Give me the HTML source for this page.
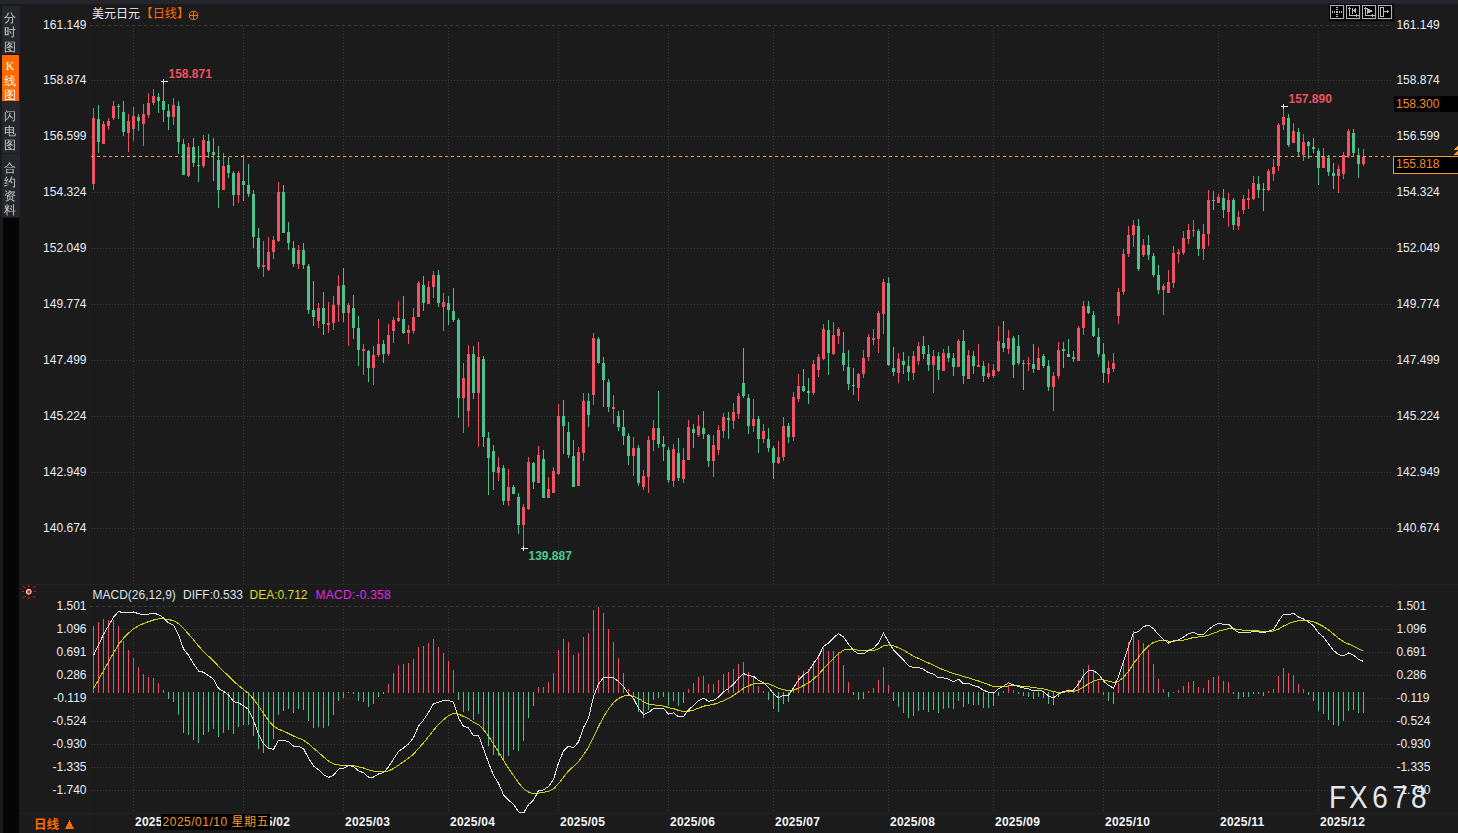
<!DOCTYPE html>
<html><head><meta charset="utf-8"><style>
html,body{margin:0;padding:0;background:#1b1b1b;overflow:hidden}
svg{display:block}
.ax{font-family:"Liberation Sans",Arial,sans-serif;font-size:12px;fill:#e8ecf4}
.hl{font-family:"Liberation Sans",Arial,sans-serif;font-size:12px;font-weight:bold}
.dt{font-family:"Liberation Sans",Arial,sans-serif;font-size:12px;font-weight:bold;fill:#f4f6fa;letter-spacing:0.25px}
.cj{font-family:"Liberation Sans","Noto Sans CJK SC",sans-serif;font-size:12px}
.cjb{font-family:"Liberation Sans","Noto Sans CJK SC",sans-serif;font-size:12.5px;font-weight:bold}
.sb{font-family:"Liberation Sans","WenQuanYi Zen Hei","Noto Sans CJK SC",sans-serif;font-size:12px}
.sbk{font-family:"Liberation Serif",serif;font-size:12px}
.wm{font-family:"Liberation Sans",Arial,sans-serif;font-size:31px;fill:#e4e8f0}
</style></head><body>
<svg width="1458" height="833" viewBox="0 0 1458 833" shape-rendering="crispEdges">
<defs><clipPath id="mclip"><rect x="90" y="586" width="1301" height="227"/></clipPath></defs>
<rect x="0" y="0" width="1458" height="833" fill="#1b1b1b"/>
<rect x="0" y="0" width="1458" height="4" fill="#24262b"/>
<rect x="2" y="6" width="18" height="48" fill="#25272c"/>
<rect x="2" y="54" width="18" height="1" fill="#101822"/>
<rect x="2" y="55" width="17" height="46" fill="#ff6a00"/>
<rect x="2" y="101" width="18" height="52" fill="#25272c"/>
<rect x="2" y="153" width="18" height="1" fill="#1e2024"/>
<rect x="2" y="154" width="18" height="63" fill="#25272c"/>
<rect x="3" y="218" width="16" height="615" fill="#050505"/>
<rect x="89" y="25" width="1" height="808" fill="#1f1f1f"/>
<rect x="20" y="584" width="1438" height="1" fill="#222222"/>
<rect x="20" y="813" width="1438" height="1" fill="#202020"/>
<rect x="1394" y="25" width="1" height="788" fill="#1d1d1d"/>
<line x1="90" y1="25.5" x2="1392" y2="25.5" stroke="#3a3a3a" stroke-width="1" stroke-dasharray="3 3"/>
<line x1="91" y1="80.5" x2="1392" y2="80.5" stroke="#3a3a3a" stroke-width="1" stroke-dasharray="1 2" stroke-dashoffset="-0"/>
<line x1="91" y1="136.5" x2="1392" y2="136.5" stroke="#3a3a3a" stroke-width="1" stroke-dasharray="1 2" stroke-dashoffset="-0"/>
<line x1="91" y1="192.5" x2="1392" y2="192.5" stroke="#3a3a3a" stroke-width="1" stroke-dasharray="1 2" stroke-dashoffset="-0"/>
<line x1="91" y1="248.5" x2="1392" y2="248.5" stroke="#3a3a3a" stroke-width="1" stroke-dasharray="1 2" stroke-dashoffset="-0"/>
<line x1="91" y1="304.5" x2="1392" y2="304.5" stroke="#3a3a3a" stroke-width="1" stroke-dasharray="1 2" stroke-dashoffset="-0"/>
<line x1="91" y1="360.5" x2="1392" y2="360.5" stroke="#3a3a3a" stroke-width="1" stroke-dasharray="1 2" stroke-dashoffset="-0"/>
<line x1="91" y1="416.5" x2="1392" y2="416.5" stroke="#3a3a3a" stroke-width="1" stroke-dasharray="1 2" stroke-dashoffset="-0"/>
<line x1="91" y1="472.5" x2="1392" y2="472.5" stroke="#3a3a3a" stroke-width="1" stroke-dasharray="1 2" stroke-dashoffset="-0"/>
<line x1="91" y1="528.5" x2="1392" y2="528.5" stroke="#3a3a3a" stroke-width="1" stroke-dasharray="1 2" stroke-dashoffset="-0"/>
<line x1="90" y1="606.5" x2="1392" y2="606.5" stroke="#3a3a3a" stroke-width="1" stroke-dasharray="3 3"/>
<line x1="91" y1="629.5" x2="1392" y2="629.5" stroke="#3a3a3a" stroke-width="1" stroke-dasharray="1 2" stroke-dashoffset="-0"/>
<line x1="91" y1="652.5" x2="1392" y2="652.5" stroke="#3a3a3a" stroke-width="1" stroke-dasharray="1 2" stroke-dashoffset="-0"/>
<line x1="91" y1="675.5" x2="1392" y2="675.5" stroke="#3a3a3a" stroke-width="1" stroke-dasharray="1 2" stroke-dashoffset="-0"/>
<line x1="91" y1="698.5" x2="1392" y2="698.5" stroke="#3a3a3a" stroke-width="1" stroke-dasharray="1 2" stroke-dashoffset="-0"/>
<line x1="91" y1="721.5" x2="1392" y2="721.5" stroke="#3a3a3a" stroke-width="1" stroke-dasharray="1 2" stroke-dashoffset="-0"/>
<line x1="91" y1="744.5" x2="1392" y2="744.5" stroke="#3a3a3a" stroke-width="1" stroke-dasharray="1 2" stroke-dashoffset="-0"/>
<line x1="91" y1="767.5" x2="1392" y2="767.5" stroke="#3a3a3a" stroke-width="1" stroke-dasharray="1 2" stroke-dashoffset="-0"/>
<line x1="91" y1="790.5" x2="1392" y2="790.5" stroke="#3a3a3a" stroke-width="1" stroke-dasharray="1 2" stroke-dashoffset="-0"/>
<line x1="133.5" y1="28" x2="133.5" y2="584" stroke="#3a3a3a" stroke-width="1" stroke-dasharray="1 2"/>
<line x1="133.5" y1="609" x2="133.5" y2="812" stroke="#3a3a3a" stroke-width="1" stroke-dasharray="1 2"/>
<line x1="243.5" y1="28" x2="243.5" y2="584" stroke="#3a3a3a" stroke-width="1" stroke-dasharray="1 2"/>
<line x1="243.5" y1="609" x2="243.5" y2="812" stroke="#3a3a3a" stroke-width="1" stroke-dasharray="1 2"/>
<line x1="343.5" y1="28" x2="343.5" y2="584" stroke="#3a3a3a" stroke-width="1" stroke-dasharray="1 2"/>
<line x1="343.5" y1="609" x2="343.5" y2="812" stroke="#3a3a3a" stroke-width="1" stroke-dasharray="1 2"/>
<line x1="448.5" y1="28" x2="448.5" y2="584" stroke="#3a3a3a" stroke-width="1" stroke-dasharray="1 2"/>
<line x1="448.5" y1="609" x2="448.5" y2="812" stroke="#3a3a3a" stroke-width="1" stroke-dasharray="1 2"/>
<line x1="558.5" y1="28" x2="558.5" y2="584" stroke="#3a3a3a" stroke-width="1" stroke-dasharray="1 2"/>
<line x1="558.5" y1="609" x2="558.5" y2="812" stroke="#3a3a3a" stroke-width="1" stroke-dasharray="1 2"/>
<line x1="668.5" y1="28" x2="668.5" y2="584" stroke="#3a3a3a" stroke-width="1" stroke-dasharray="1 2"/>
<line x1="668.5" y1="609" x2="668.5" y2="812" stroke="#3a3a3a" stroke-width="1" stroke-dasharray="1 2"/>
<line x1="773.5" y1="28" x2="773.5" y2="584" stroke="#3a3a3a" stroke-width="1" stroke-dasharray="1 2"/>
<line x1="773.5" y1="609" x2="773.5" y2="812" stroke="#3a3a3a" stroke-width="1" stroke-dasharray="1 2"/>
<line x1="888.5" y1="28" x2="888.5" y2="584" stroke="#3a3a3a" stroke-width="1" stroke-dasharray="1 2"/>
<line x1="888.5" y1="609" x2="888.5" y2="812" stroke="#3a3a3a" stroke-width="1" stroke-dasharray="1 2"/>
<line x1="993.5" y1="28" x2="993.5" y2="584" stroke="#3a3a3a" stroke-width="1" stroke-dasharray="1 2"/>
<line x1="993.5" y1="609" x2="993.5" y2="812" stroke="#3a3a3a" stroke-width="1" stroke-dasharray="1 2"/>
<line x1="1103.5" y1="28" x2="1103.5" y2="584" stroke="#3a3a3a" stroke-width="1" stroke-dasharray="1 2"/>
<line x1="1103.5" y1="609" x2="1103.5" y2="812" stroke="#3a3a3a" stroke-width="1" stroke-dasharray="1 2"/>
<line x1="1218.5" y1="28" x2="1218.5" y2="584" stroke="#3a3a3a" stroke-width="1" stroke-dasharray="1 2"/>
<line x1="1218.5" y1="609" x2="1218.5" y2="812" stroke="#3a3a3a" stroke-width="1" stroke-dasharray="1 2"/>
<line x1="1318.5" y1="28" x2="1318.5" y2="584" stroke="#3a3a3a" stroke-width="1" stroke-dasharray="1 2"/>
<line x1="1318.5" y1="609" x2="1318.5" y2="812" stroke="#3a3a3a" stroke-width="1" stroke-dasharray="1 2"/>
<rect x="93" y="108" width="1" height="82" fill="#ee5264"/>
<rect x="92" y="118" width="3" height="66" fill="#ee5264"/>
<rect x="98" y="105" width="1" height="48" fill="#4dc08c"/>
<rect x="97" y="119" width="3" height="23" fill="#4dc08c"/>
<rect x="103" y="121" width="1" height="23" fill="#ee5264"/>
<rect x="102" y="124" width="3" height="20" fill="#ee5264"/>
<rect x="108" y="118" width="1" height="12" fill="#ee5264"/>
<rect x="107" y="121" width="3" height="5" fill="#ee5264"/>
<rect x="113" y="101" width="1" height="19" fill="#ee5264"/>
<rect x="112" y="106" width="3" height="12" fill="#ee5264"/>
<rect x="118" y="104" width="1" height="15" fill="#4dc08c"/>
<rect x="117" y="106" width="3" height="1" fill="#4dc08c"/>
<rect x="123" y="101" width="1" height="35" fill="#4dc08c"/>
<rect x="122" y="112" width="3" height="20" fill="#4dc08c"/>
<rect x="128" y="114" width="1" height="38" fill="#ee5264"/>
<rect x="127" y="121" width="3" height="12" fill="#ee5264"/>
<rect x="133" y="107" width="1" height="34" fill="#ee5264"/>
<rect x="132" y="116" width="3" height="13" fill="#ee5264"/>
<rect x="138" y="114" width="1" height="17" fill="#4dc08c"/>
<rect x="137" y="117" width="3" height="4" fill="#4dc08c"/>
<rect x="143" y="104" width="1" height="42" fill="#ee5264"/>
<rect x="142" y="114" width="3" height="10" fill="#ee5264"/>
<rect x="148" y="93" width="1" height="25" fill="#ee5264"/>
<rect x="147" y="103" width="3" height="12" fill="#ee5264"/>
<rect x="153" y="89" width="1" height="16" fill="#ee5264"/>
<rect x="152" y="96" width="3" height="7" fill="#ee5264"/>
<rect x="158" y="93" width="1" height="20" fill="#4dc08c"/>
<rect x="157" y="97" width="3" height="4" fill="#4dc08c"/>
<rect x="163" y="81" width="1" height="41" fill="#4dc08c"/>
<rect x="162" y="101" width="3" height="9" fill="#4dc08c"/>
<rect x="168" y="104" width="1" height="26" fill="#4dc08c"/>
<rect x="167" y="111" width="3" height="6" fill="#4dc08c"/>
<rect x="173" y="98" width="1" height="27" fill="#ee5264"/>
<rect x="172" y="105" width="3" height="12" fill="#ee5264"/>
<rect x="178" y="101" width="1" height="53" fill="#4dc08c"/>
<rect x="177" y="106" width="3" height="36" fill="#4dc08c"/>
<rect x="183" y="139" width="1" height="36" fill="#4dc08c"/>
<rect x="182" y="144" width="3" height="31" fill="#4dc08c"/>
<rect x="188" y="143" width="1" height="34" fill="#ee5264"/>
<rect x="187" y="147" width="3" height="29" fill="#ee5264"/>
<rect x="193" y="138" width="1" height="29" fill="#4dc08c"/>
<rect x="192" y="147" width="3" height="16" fill="#4dc08c"/>
<rect x="198" y="146" width="1" height="36" fill="#4dc08c"/>
<rect x="197" y="165" width="3" height="1" fill="#4dc08c"/>
<rect x="203" y="135" width="1" height="33" fill="#ee5264"/>
<rect x="202" y="140" width="3" height="26" fill="#ee5264"/>
<rect x="208" y="134" width="1" height="24" fill="#4dc08c"/>
<rect x="207" y="141" width="3" height="11" fill="#4dc08c"/>
<rect x="213" y="138" width="1" height="43" fill="#4dc08c"/>
<rect x="212" y="152" width="3" height="3" fill="#4dc08c"/>
<rect x="218" y="146" width="1" height="62" fill="#4dc08c"/>
<rect x="217" y="160" width="3" height="30" fill="#4dc08c"/>
<rect x="223" y="153" width="1" height="37" fill="#ee5264"/>
<rect x="222" y="166" width="3" height="24" fill="#ee5264"/>
<rect x="228" y="157" width="1" height="21" fill="#4dc08c"/>
<rect x="227" y="165" width="3" height="8" fill="#4dc08c"/>
<rect x="233" y="171" width="1" height="35" fill="#4dc08c"/>
<rect x="232" y="173" width="3" height="22" fill="#4dc08c"/>
<rect x="238" y="171" width="1" height="32" fill="#ee5264"/>
<rect x="237" y="173" width="3" height="22" fill="#ee5264"/>
<rect x="243" y="155" width="1" height="46" fill="#4dc08c"/>
<rect x="242" y="181" width="3" height="4" fill="#4dc08c"/>
<rect x="248" y="164" width="1" height="33" fill="#4dc08c"/>
<rect x="247" y="185" width="3" height="9" fill="#4dc08c"/>
<rect x="253" y="190" width="1" height="58" fill="#4dc08c"/>
<rect x="252" y="194" width="3" height="43" fill="#4dc08c"/>
<rect x="258" y="228" width="1" height="41" fill="#4dc08c"/>
<rect x="257" y="238" width="3" height="29" fill="#4dc08c"/>
<rect x="263" y="241" width="1" height="36" fill="#ee5264"/>
<rect x="262" y="265" width="3" height="2" fill="#ee5264"/>
<rect x="268" y="237" width="1" height="34" fill="#ee5264"/>
<rect x="267" y="252" width="3" height="18" fill="#ee5264"/>
<rect x="273" y="236" width="1" height="23" fill="#ee5264"/>
<rect x="272" y="240" width="3" height="12" fill="#ee5264"/>
<rect x="278" y="182" width="1" height="60" fill="#ee5264"/>
<rect x="277" y="192" width="3" height="49" fill="#ee5264"/>
<rect x="283" y="185" width="1" height="48" fill="#4dc08c"/>
<rect x="282" y="192" width="3" height="41" fill="#4dc08c"/>
<rect x="288" y="222" width="1" height="28" fill="#4dc08c"/>
<rect x="287" y="232" width="3" height="11" fill="#4dc08c"/>
<rect x="293" y="241" width="1" height="26" fill="#4dc08c"/>
<rect x="292" y="248" width="3" height="16" fill="#4dc08c"/>
<rect x="298" y="245" width="1" height="24" fill="#ee5264"/>
<rect x="297" y="250" width="3" height="14" fill="#ee5264"/>
<rect x="303" y="243" width="1" height="26" fill="#4dc08c"/>
<rect x="302" y="250" width="3" height="15" fill="#4dc08c"/>
<rect x="308" y="264" width="1" height="50" fill="#4dc08c"/>
<rect x="307" y="266" width="3" height="44" fill="#4dc08c"/>
<rect x="313" y="281" width="1" height="45" fill="#4dc08c"/>
<rect x="312" y="310" width="3" height="7" fill="#4dc08c"/>
<rect x="318" y="303" width="1" height="25" fill="#ee5264"/>
<rect x="317" y="308" width="3" height="13" fill="#ee5264"/>
<rect x="323" y="292" width="1" height="43" fill="#4dc08c"/>
<rect x="322" y="308" width="3" height="16" fill="#4dc08c"/>
<rect x="328" y="302" width="1" height="31" fill="#ee5264"/>
<rect x="327" y="323" width="3" height="2" fill="#ee5264"/>
<rect x="333" y="296" width="1" height="34" fill="#ee5264"/>
<rect x="332" y="305" width="3" height="18" fill="#ee5264"/>
<rect x="338" y="275" width="1" height="47" fill="#ee5264"/>
<rect x="337" y="286" width="3" height="19" fill="#ee5264"/>
<rect x="343" y="268" width="1" height="54" fill="#4dc08c"/>
<rect x="342" y="285" width="3" height="28" fill="#4dc08c"/>
<rect x="348" y="303" width="1" height="43" fill="#ee5264"/>
<rect x="347" y="305" width="3" height="8" fill="#ee5264"/>
<rect x="353" y="295" width="1" height="44" fill="#4dc08c"/>
<rect x="352" y="308" width="3" height="20" fill="#4dc08c"/>
<rect x="358" y="316" width="1" height="50" fill="#4dc08c"/>
<rect x="357" y="328" width="3" height="22" fill="#4dc08c"/>
<rect x="363" y="344" width="1" height="31" fill="#ee5264"/>
<rect x="362" y="349" width="3" height="2" fill="#ee5264"/>
<rect x="368" y="350" width="1" height="32" fill="#4dc08c"/>
<rect x="367" y="351" width="3" height="17" fill="#4dc08c"/>
<rect x="373" y="346" width="1" height="39" fill="#ee5264"/>
<rect x="372" y="355" width="3" height="13" fill="#ee5264"/>
<rect x="378" y="319" width="1" height="38" fill="#ee5264"/>
<rect x="377" y="344" width="3" height="11" fill="#ee5264"/>
<rect x="383" y="340" width="1" height="23" fill="#4dc08c"/>
<rect x="382" y="344" width="3" height="10" fill="#4dc08c"/>
<rect x="388" y="324" width="1" height="32" fill="#ee5264"/>
<rect x="387" y="335" width="3" height="19" fill="#ee5264"/>
<rect x="393" y="317" width="1" height="26" fill="#ee5264"/>
<rect x="392" y="320" width="3" height="11" fill="#ee5264"/>
<rect x="398" y="301" width="1" height="21" fill="#ee5264"/>
<rect x="397" y="318" width="3" height="3" fill="#ee5264"/>
<rect x="403" y="296" width="1" height="38" fill="#4dc08c"/>
<rect x="402" y="319" width="3" height="14" fill="#4dc08c"/>
<rect x="408" y="325" width="1" height="19" fill="#ee5264"/>
<rect x="407" y="330" width="3" height="3" fill="#ee5264"/>
<rect x="413" y="308" width="1" height="26" fill="#ee5264"/>
<rect x="412" y="317" width="3" height="14" fill="#ee5264"/>
<rect x="418" y="281" width="1" height="36" fill="#ee5264"/>
<rect x="417" y="283" width="3" height="34" fill="#ee5264"/>
<rect x="423" y="276" width="1" height="35" fill="#4dc08c"/>
<rect x="422" y="285" width="3" height="18" fill="#4dc08c"/>
<rect x="428" y="281" width="1" height="23" fill="#ee5264"/>
<rect x="427" y="287" width="3" height="17" fill="#ee5264"/>
<rect x="433" y="271" width="1" height="27" fill="#ee5264"/>
<rect x="432" y="275" width="3" height="12" fill="#ee5264"/>
<rect x="438" y="270" width="1" height="37" fill="#4dc08c"/>
<rect x="437" y="275" width="3" height="28" fill="#4dc08c"/>
<rect x="443" y="293" width="1" height="38" fill="#ee5264"/>
<rect x="442" y="302" width="3" height="5" fill="#ee5264"/>
<rect x="448" y="296" width="1" height="29" fill="#4dc08c"/>
<rect x="447" y="303" width="3" height="7" fill="#4dc08c"/>
<rect x="453" y="288" width="1" height="34" fill="#4dc08c"/>
<rect x="452" y="311" width="3" height="9" fill="#4dc08c"/>
<rect x="458" y="318" width="1" height="100" fill="#4dc08c"/>
<rect x="457" y="320" width="3" height="78" fill="#4dc08c"/>
<rect x="463" y="363" width="1" height="70" fill="#ee5264"/>
<rect x="462" y="378" width="3" height="20" fill="#ee5264"/>
<rect x="468" y="345" width="1" height="82" fill="#ee5264"/>
<rect x="467" y="354" width="3" height="57" fill="#ee5264"/>
<rect x="473" y="346" width="1" height="53" fill="#4dc08c"/>
<rect x="472" y="354" width="3" height="39" fill="#4dc08c"/>
<rect x="478" y="342" width="1" height="105" fill="#ee5264"/>
<rect x="477" y="357" width="3" height="36" fill="#ee5264"/>
<rect x="483" y="356" width="1" height="91" fill="#4dc08c"/>
<rect x="482" y="359" width="3" height="78" fill="#4dc08c"/>
<rect x="488" y="432" width="1" height="63" fill="#4dc08c"/>
<rect x="487" y="438" width="3" height="20" fill="#4dc08c"/>
<rect x="493" y="445" width="1" height="45" fill="#4dc08c"/>
<rect x="492" y="451" width="3" height="21" fill="#4dc08c"/>
<rect x="498" y="457" width="1" height="24" fill="#ee5264"/>
<rect x="497" y="467" width="3" height="6" fill="#ee5264"/>
<rect x="503" y="465" width="1" height="40" fill="#4dc08c"/>
<rect x="502" y="468" width="3" height="33" fill="#4dc08c"/>
<rect x="508" y="469" width="1" height="37" fill="#ee5264"/>
<rect x="507" y="487" width="3" height="14" fill="#ee5264"/>
<rect x="513" y="485" width="1" height="9" fill="#4dc08c"/>
<rect x="512" y="487" width="3" height="7" fill="#4dc08c"/>
<rect x="518" y="493" width="1" height="41" fill="#4dc08c"/>
<rect x="517" y="497" width="3" height="28" fill="#4dc08c"/>
<rect x="523" y="504" width="1" height="44" fill="#ee5264"/>
<rect x="522" y="507" width="3" height="18" fill="#ee5264"/>
<rect x="528" y="457" width="1" height="53" fill="#ee5264"/>
<rect x="527" y="462" width="3" height="47" fill="#ee5264"/>
<rect x="533" y="462" width="1" height="27" fill="#4dc08c"/>
<rect x="532" y="463" width="3" height="19" fill="#4dc08c"/>
<rect x="538" y="446" width="1" height="37" fill="#ee5264"/>
<rect x="537" y="455" width="3" height="28" fill="#ee5264"/>
<rect x="543" y="450" width="1" height="48" fill="#4dc08c"/>
<rect x="542" y="459" width="3" height="39" fill="#4dc08c"/>
<rect x="548" y="477" width="1" height="21" fill="#ee5264"/>
<rect x="547" y="489" width="3" height="9" fill="#ee5264"/>
<rect x="553" y="467" width="1" height="26" fill="#ee5264"/>
<rect x="552" y="471" width="3" height="22" fill="#ee5264"/>
<rect x="558" y="404" width="1" height="71" fill="#ee5264"/>
<rect x="557" y="416" width="3" height="58" fill="#ee5264"/>
<rect x="563" y="400" width="1" height="54" fill="#4dc08c"/>
<rect x="562" y="416" width="3" height="10" fill="#4dc08c"/>
<rect x="568" y="422" width="1" height="36" fill="#4dc08c"/>
<rect x="567" y="432" width="3" height="23" fill="#4dc08c"/>
<rect x="573" y="440" width="1" height="47" fill="#4dc08c"/>
<rect x="572" y="456" width="3" height="31" fill="#4dc08c"/>
<rect x="578" y="447" width="1" height="39" fill="#ee5264"/>
<rect x="577" y="452" width="3" height="34" fill="#ee5264"/>
<rect x="583" y="393" width="1" height="68" fill="#ee5264"/>
<rect x="582" y="401" width="3" height="52" fill="#ee5264"/>
<rect x="588" y="393" width="1" height="34" fill="#4dc08c"/>
<rect x="587" y="401" width="3" height="14" fill="#4dc08c"/>
<rect x="593" y="333" width="1" height="72" fill="#ee5264"/>
<rect x="592" y="338" width="3" height="57" fill="#ee5264"/>
<rect x="598" y="337" width="1" height="27" fill="#4dc08c"/>
<rect x="597" y="339" width="3" height="24" fill="#4dc08c"/>
<rect x="603" y="357" width="1" height="50" fill="#4dc08c"/>
<rect x="602" y="363" width="3" height="17" fill="#4dc08c"/>
<rect x="608" y="379" width="1" height="33" fill="#4dc08c"/>
<rect x="607" y="382" width="3" height="25" fill="#4dc08c"/>
<rect x="613" y="395" width="1" height="29" fill="#ee5264"/>
<rect x="612" y="407" width="3" height="2" fill="#ee5264"/>
<rect x="618" y="411" width="1" height="20" fill="#4dc08c"/>
<rect x="617" y="416" width="3" height="11" fill="#4dc08c"/>
<rect x="623" y="410" width="1" height="35" fill="#4dc08c"/>
<rect x="622" y="427" width="3" height="9" fill="#4dc08c"/>
<rect x="628" y="433" width="1" height="32" fill="#4dc08c"/>
<rect x="627" y="436" width="3" height="20" fill="#4dc08c"/>
<rect x="633" y="437" width="1" height="39" fill="#ee5264"/>
<rect x="632" y="448" width="3" height="8" fill="#ee5264"/>
<rect x="638" y="445" width="1" height="41" fill="#4dc08c"/>
<rect x="637" y="448" width="3" height="35" fill="#4dc08c"/>
<rect x="643" y="470" width="1" height="20" fill="#ee5264"/>
<rect x="642" y="476" width="3" height="11" fill="#ee5264"/>
<rect x="648" y="436" width="1" height="57" fill="#ee5264"/>
<rect x="647" y="440" width="3" height="37" fill="#ee5264"/>
<rect x="653" y="420" width="1" height="31" fill="#ee5264"/>
<rect x="652" y="428" width="3" height="12" fill="#ee5264"/>
<rect x="658" y="391" width="1" height="57" fill="#4dc08c"/>
<rect x="657" y="428" width="3" height="16" fill="#4dc08c"/>
<rect x="663" y="436" width="1" height="25" fill="#4dc08c"/>
<rect x="662" y="444" width="3" height="3" fill="#4dc08c"/>
<rect x="668" y="447" width="1" height="36" fill="#4dc08c"/>
<rect x="667" y="450" width="3" height="30" fill="#4dc08c"/>
<rect x="673" y="444" width="1" height="43" fill="#ee5264"/>
<rect x="672" y="449" width="3" height="32" fill="#ee5264"/>
<rect x="678" y="438" width="1" height="43" fill="#4dc08c"/>
<rect x="677" y="453" width="3" height="25" fill="#4dc08c"/>
<rect x="683" y="448" width="1" height="35" fill="#ee5264"/>
<rect x="682" y="460" width="3" height="19" fill="#ee5264"/>
<rect x="688" y="420" width="1" height="40" fill="#ee5264"/>
<rect x="687" y="427" width="3" height="33" fill="#ee5264"/>
<rect x="693" y="424" width="1" height="24" fill="#4dc08c"/>
<rect x="692" y="429" width="3" height="4" fill="#4dc08c"/>
<rect x="698" y="415" width="1" height="22" fill="#ee5264"/>
<rect x="697" y="426" width="3" height="9" fill="#ee5264"/>
<rect x="703" y="411" width="1" height="28" fill="#4dc08c"/>
<rect x="702" y="428" width="3" height="6" fill="#4dc08c"/>
<rect x="708" y="434" width="1" height="33" fill="#4dc08c"/>
<rect x="707" y="435" width="3" height="26" fill="#4dc08c"/>
<rect x="713" y="435" width="1" height="42" fill="#ee5264"/>
<rect x="712" y="445" width="3" height="16" fill="#ee5264"/>
<rect x="718" y="425" width="1" height="30" fill="#ee5264"/>
<rect x="717" y="430" width="3" height="20" fill="#ee5264"/>
<rect x="723" y="413" width="1" height="25" fill="#ee5264"/>
<rect x="722" y="417" width="3" height="14" fill="#ee5264"/>
<rect x="728" y="412" width="1" height="27" fill="#4dc08c"/>
<rect x="727" y="418" width="3" height="2" fill="#4dc08c"/>
<rect x="733" y="403" width="1" height="26" fill="#ee5264"/>
<rect x="732" y="412" width="3" height="9" fill="#ee5264"/>
<rect x="738" y="393" width="1" height="26" fill="#ee5264"/>
<rect x="737" y="396" width="3" height="18" fill="#ee5264"/>
<rect x="743" y="348" width="1" height="50" fill="#4dc08c"/>
<rect x="742" y="383" width="3" height="13" fill="#4dc08c"/>
<rect x="748" y="394" width="1" height="40" fill="#4dc08c"/>
<rect x="747" y="398" width="3" height="28" fill="#4dc08c"/>
<rect x="753" y="399" width="1" height="33" fill="#ee5264"/>
<rect x="752" y="419" width="3" height="7" fill="#ee5264"/>
<rect x="758" y="416" width="1" height="37" fill="#4dc08c"/>
<rect x="757" y="419" width="3" height="20" fill="#4dc08c"/>
<rect x="763" y="424" width="1" height="19" fill="#ee5264"/>
<rect x="762" y="431" width="3" height="8" fill="#ee5264"/>
<rect x="768" y="428" width="1" height="24" fill="#4dc08c"/>
<rect x="767" y="439" width="3" height="9" fill="#4dc08c"/>
<rect x="773" y="446" width="1" height="33" fill="#4dc08c"/>
<rect x="772" y="448" width="3" height="15" fill="#4dc08c"/>
<rect x="778" y="441" width="1" height="23" fill="#ee5264"/>
<rect x="777" y="457" width="3" height="6" fill="#ee5264"/>
<rect x="783" y="417" width="1" height="44" fill="#ee5264"/>
<rect x="782" y="426" width="3" height="31" fill="#ee5264"/>
<rect x="788" y="423" width="1" height="20" fill="#4dc08c"/>
<rect x="787" y="426" width="3" height="11" fill="#4dc08c"/>
<rect x="793" y="392" width="1" height="49" fill="#ee5264"/>
<rect x="792" y="397" width="3" height="40" fill="#ee5264"/>
<rect x="798" y="374" width="1" height="28" fill="#ee5264"/>
<rect x="797" y="386" width="3" height="13" fill="#ee5264"/>
<rect x="803" y="369" width="1" height="23" fill="#4dc08c"/>
<rect x="802" y="386" width="3" height="5" fill="#4dc08c"/>
<rect x="808" y="378" width="1" height="26" fill="#4dc08c"/>
<rect x="807" y="391" width="3" height="2" fill="#4dc08c"/>
<rect x="813" y="360" width="1" height="35" fill="#ee5264"/>
<rect x="812" y="364" width="3" height="29" fill="#ee5264"/>
<rect x="818" y="354" width="1" height="23" fill="#ee5264"/>
<rect x="817" y="357" width="3" height="13" fill="#ee5264"/>
<rect x="823" y="324" width="1" height="36" fill="#ee5264"/>
<rect x="822" y="329" width="3" height="30" fill="#ee5264"/>
<rect x="828" y="320" width="1" height="55" fill="#4dc08c"/>
<rect x="827" y="330" width="3" height="23" fill="#4dc08c"/>
<rect x="833" y="322" width="1" height="33" fill="#ee5264"/>
<rect x="832" y="335" width="3" height="19" fill="#ee5264"/>
<rect x="838" y="327" width="1" height="17" fill="#ee5264"/>
<rect x="837" y="329" width="3" height="7" fill="#ee5264"/>
<rect x="843" y="332" width="1" height="39" fill="#4dc08c"/>
<rect x="842" y="353" width="3" height="12" fill="#4dc08c"/>
<rect x="848" y="350" width="1" height="40" fill="#4dc08c"/>
<rect x="847" y="367" width="3" height="17" fill="#4dc08c"/>
<rect x="853" y="368" width="1" height="27" fill="#4dc08c"/>
<rect x="852" y="385" width="3" height="1" fill="#4dc08c"/>
<rect x="858" y="373" width="1" height="28" fill="#ee5264"/>
<rect x="857" y="374" width="3" height="14" fill="#ee5264"/>
<rect x="863" y="350" width="1" height="28" fill="#ee5264"/>
<rect x="862" y="358" width="3" height="16" fill="#ee5264"/>
<rect x="868" y="334" width="1" height="27" fill="#ee5264"/>
<rect x="867" y="337" width="3" height="20" fill="#ee5264"/>
<rect x="873" y="329" width="1" height="16" fill="#ee5264"/>
<rect x="872" y="338" width="3" height="2" fill="#ee5264"/>
<rect x="878" y="311" width="1" height="42" fill="#ee5264"/>
<rect x="877" y="313" width="3" height="26" fill="#ee5264"/>
<rect x="883" y="279" width="1" height="55" fill="#ee5264"/>
<rect x="882" y="282" width="3" height="32" fill="#ee5264"/>
<rect x="888" y="277" width="1" height="89" fill="#4dc08c"/>
<rect x="887" y="283" width="3" height="82" fill="#4dc08c"/>
<rect x="893" y="347" width="1" height="29" fill="#4dc08c"/>
<rect x="892" y="368" width="3" height="4" fill="#4dc08c"/>
<rect x="898" y="353" width="1" height="30" fill="#ee5264"/>
<rect x="897" y="359" width="3" height="14" fill="#ee5264"/>
<rect x="903" y="352" width="1" height="22" fill="#4dc08c"/>
<rect x="902" y="361" width="3" height="4" fill="#4dc08c"/>
<rect x="908" y="356" width="1" height="25" fill="#4dc08c"/>
<rect x="907" y="366" width="3" height="6" fill="#4dc08c"/>
<rect x="913" y="351" width="1" height="29" fill="#ee5264"/>
<rect x="912" y="356" width="3" height="17" fill="#ee5264"/>
<rect x="918" y="342" width="1" height="23" fill="#ee5264"/>
<rect x="917" y="346" width="3" height="15" fill="#ee5264"/>
<rect x="923" y="336" width="1" height="23" fill="#4dc08c"/>
<rect x="922" y="346" width="3" height="8" fill="#4dc08c"/>
<rect x="928" y="345" width="1" height="26" fill="#4dc08c"/>
<rect x="927" y="354" width="3" height="11" fill="#4dc08c"/>
<rect x="933" y="350" width="1" height="43" fill="#ee5264"/>
<rect x="932" y="356" width="3" height="9" fill="#ee5264"/>
<rect x="938" y="352" width="1" height="28" fill="#4dc08c"/>
<rect x="937" y="356" width="3" height="14" fill="#4dc08c"/>
<rect x="943" y="349" width="1" height="22" fill="#ee5264"/>
<rect x="942" y="353" width="3" height="18" fill="#ee5264"/>
<rect x="948" y="346" width="1" height="16" fill="#4dc08c"/>
<rect x="947" y="353" width="3" height="5" fill="#4dc08c"/>
<rect x="953" y="353" width="1" height="23" fill="#4dc08c"/>
<rect x="952" y="358" width="3" height="9" fill="#4dc08c"/>
<rect x="958" y="339" width="1" height="28" fill="#ee5264"/>
<rect x="957" y="341" width="3" height="26" fill="#ee5264"/>
<rect x="963" y="330" width="1" height="54" fill="#4dc08c"/>
<rect x="962" y="341" width="3" height="35" fill="#4dc08c"/>
<rect x="968" y="350" width="1" height="29" fill="#ee5264"/>
<rect x="967" y="355" width="3" height="24" fill="#ee5264"/>
<rect x="973" y="351" width="1" height="23" fill="#4dc08c"/>
<rect x="972" y="356" width="3" height="10" fill="#4dc08c"/>
<rect x="978" y="344" width="1" height="23" fill="#ee5264"/>
<rect x="977" y="365" width="3" height="2" fill="#ee5264"/>
<rect x="983" y="361" width="1" height="21" fill="#4dc08c"/>
<rect x="982" y="366" width="3" height="10" fill="#4dc08c"/>
<rect x="988" y="363" width="1" height="16" fill="#ee5264"/>
<rect x="987" y="373" width="3" height="4" fill="#ee5264"/>
<rect x="993" y="364" width="1" height="14" fill="#ee5264"/>
<rect x="992" y="370" width="3" height="6" fill="#ee5264"/>
<rect x="998" y="326" width="1" height="46" fill="#ee5264"/>
<rect x="997" y="341" width="3" height="30" fill="#ee5264"/>
<rect x="1003" y="321" width="1" height="31" fill="#4dc08c"/>
<rect x="1002" y="343" width="3" height="5" fill="#4dc08c"/>
<rect x="1008" y="330" width="1" height="24" fill="#ee5264"/>
<rect x="1007" y="338" width="3" height="11" fill="#ee5264"/>
<rect x="1013" y="336" width="1" height="42" fill="#4dc08c"/>
<rect x="1012" y="338" width="3" height="27" fill="#4dc08c"/>
<rect x="1018" y="335" width="1" height="30" fill="#4dc08c"/>
<rect x="1017" y="346" width="3" height="17" fill="#4dc08c"/>
<rect x="1023" y="360" width="1" height="30" fill="#4dc08c"/>
<rect x="1022" y="363" width="3" height="1" fill="#4dc08c"/>
<rect x="1028" y="357" width="1" height="14" fill="#ee5264"/>
<rect x="1027" y="363" width="3" height="1" fill="#ee5264"/>
<rect x="1033" y="344" width="1" height="29" fill="#4dc08c"/>
<rect x="1032" y="364" width="3" height="5" fill="#4dc08c"/>
<rect x="1038" y="347" width="1" height="23" fill="#ee5264"/>
<rect x="1037" y="358" width="3" height="12" fill="#ee5264"/>
<rect x="1043" y="354" width="1" height="14" fill="#4dc08c"/>
<rect x="1042" y="356" width="3" height="10" fill="#4dc08c"/>
<rect x="1048" y="360" width="1" height="31" fill="#4dc08c"/>
<rect x="1047" y="366" width="3" height="21" fill="#4dc08c"/>
<rect x="1053" y="372" width="1" height="39" fill="#ee5264"/>
<rect x="1052" y="376" width="3" height="11" fill="#ee5264"/>
<rect x="1058" y="342" width="1" height="37" fill="#ee5264"/>
<rect x="1057" y="350" width="3" height="26" fill="#ee5264"/>
<rect x="1063" y="342" width="1" height="26" fill="#4dc08c"/>
<rect x="1062" y="349" width="3" height="2" fill="#4dc08c"/>
<rect x="1068" y="339" width="1" height="18" fill="#4dc08c"/>
<rect x="1067" y="354" width="3" height="3" fill="#4dc08c"/>
<rect x="1073" y="351" width="1" height="11" fill="#4dc08c"/>
<rect x="1072" y="357" width="3" height="2" fill="#4dc08c"/>
<rect x="1078" y="326" width="1" height="35" fill="#ee5264"/>
<rect x="1077" y="328" width="3" height="33" fill="#ee5264"/>
<rect x="1083" y="301" width="1" height="34" fill="#ee5264"/>
<rect x="1082" y="306" width="3" height="22" fill="#ee5264"/>
<rect x="1088" y="301" width="1" height="13" fill="#4dc08c"/>
<rect x="1087" y="306" width="3" height="7" fill="#4dc08c"/>
<rect x="1093" y="311" width="1" height="26" fill="#4dc08c"/>
<rect x="1092" y="315" width="3" height="21" fill="#4dc08c"/>
<rect x="1098" y="328" width="1" height="29" fill="#4dc08c"/>
<rect x="1097" y="337" width="3" height="17" fill="#4dc08c"/>
<rect x="1103" y="343" width="1" height="40" fill="#4dc08c"/>
<rect x="1102" y="354" width="3" height="19" fill="#4dc08c"/>
<rect x="1108" y="361" width="1" height="22" fill="#ee5264"/>
<rect x="1107" y="368" width="3" height="6" fill="#ee5264"/>
<rect x="1113" y="353" width="1" height="19" fill="#ee5264"/>
<rect x="1112" y="363" width="3" height="6" fill="#ee5264"/>
<rect x="1118" y="288" width="1" height="36" fill="#ee5264"/>
<rect x="1117" y="292" width="3" height="24" fill="#ee5264"/>
<rect x="1123" y="249" width="1" height="46" fill="#ee5264"/>
<rect x="1122" y="254" width="3" height="38" fill="#ee5264"/>
<rect x="1128" y="226" width="1" height="31" fill="#ee5264"/>
<rect x="1127" y="235" width="3" height="19" fill="#ee5264"/>
<rect x="1133" y="220" width="1" height="27" fill="#ee5264"/>
<rect x="1132" y="225" width="3" height="10" fill="#ee5264"/>
<rect x="1138" y="219" width="1" height="52" fill="#4dc08c"/>
<rect x="1137" y="226" width="3" height="43" fill="#4dc08c"/>
<rect x="1143" y="239" width="1" height="18" fill="#ee5264"/>
<rect x="1142" y="245" width="3" height="10" fill="#ee5264"/>
<rect x="1148" y="235" width="1" height="25" fill="#4dc08c"/>
<rect x="1147" y="245" width="3" height="10" fill="#4dc08c"/>
<rect x="1153" y="253" width="1" height="24" fill="#4dc08c"/>
<rect x="1152" y="256" width="3" height="19" fill="#4dc08c"/>
<rect x="1158" y="265" width="1" height="29" fill="#4dc08c"/>
<rect x="1157" y="275" width="3" height="15" fill="#4dc08c"/>
<rect x="1163" y="284" width="1" height="31" fill="#ee5264"/>
<rect x="1162" y="286" width="3" height="4" fill="#ee5264"/>
<rect x="1168" y="270" width="1" height="23" fill="#ee5264"/>
<rect x="1167" y="282" width="3" height="11" fill="#ee5264"/>
<rect x="1173" y="246" width="1" height="42" fill="#ee5264"/>
<rect x="1172" y="253" width="3" height="30" fill="#ee5264"/>
<rect x="1178" y="249" width="1" height="14" fill="#ee5264"/>
<rect x="1177" y="252" width="3" height="2" fill="#ee5264"/>
<rect x="1183" y="231" width="1" height="24" fill="#ee5264"/>
<rect x="1182" y="238" width="3" height="15" fill="#ee5264"/>
<rect x="1188" y="224" width="1" height="20" fill="#ee5264"/>
<rect x="1187" y="230" width="3" height="9" fill="#ee5264"/>
<rect x="1193" y="220" width="1" height="17" fill="#ee5264"/>
<rect x="1192" y="230" width="3" height="1" fill="#ee5264"/>
<rect x="1198" y="229" width="1" height="27" fill="#4dc08c"/>
<rect x="1197" y="231" width="3" height="18" fill="#4dc08c"/>
<rect x="1203" y="224" width="1" height="36" fill="#ee5264"/>
<rect x="1202" y="234" width="3" height="15" fill="#ee5264"/>
<rect x="1208" y="190" width="1" height="56" fill="#ee5264"/>
<rect x="1207" y="200" width="3" height="34" fill="#ee5264"/>
<rect x="1213" y="191" width="1" height="19" fill="#4dc08c"/>
<rect x="1212" y="200" width="3" height="1" fill="#4dc08c"/>
<rect x="1218" y="194" width="1" height="9" fill="#ee5264"/>
<rect x="1217" y="197" width="3" height="6" fill="#ee5264"/>
<rect x="1223" y="189" width="1" height="29" fill="#4dc08c"/>
<rect x="1222" y="198" width="3" height="12" fill="#4dc08c"/>
<rect x="1228" y="193" width="1" height="34" fill="#ee5264"/>
<rect x="1227" y="200" width="3" height="12" fill="#ee5264"/>
<rect x="1233" y="198" width="1" height="32" fill="#4dc08c"/>
<rect x="1232" y="200" width="3" height="25" fill="#4dc08c"/>
<rect x="1238" y="211" width="1" height="19" fill="#ee5264"/>
<rect x="1237" y="217" width="3" height="9" fill="#ee5264"/>
<rect x="1243" y="195" width="1" height="19" fill="#ee5264"/>
<rect x="1242" y="199" width="3" height="11" fill="#ee5264"/>
<rect x="1248" y="189" width="1" height="20" fill="#ee5264"/>
<rect x="1247" y="198" width="3" height="2" fill="#ee5264"/>
<rect x="1253" y="176" width="1" height="24" fill="#ee5264"/>
<rect x="1252" y="183" width="3" height="16" fill="#ee5264"/>
<rect x="1258" y="176" width="1" height="22" fill="#4dc08c"/>
<rect x="1257" y="184" width="3" height="6" fill="#4dc08c"/>
<rect x="1263" y="183" width="1" height="28" fill="#4dc08c"/>
<rect x="1262" y="189" width="3" height="1" fill="#4dc08c"/>
<rect x="1268" y="169" width="1" height="22" fill="#ee5264"/>
<rect x="1267" y="171" width="3" height="19" fill="#ee5264"/>
<rect x="1273" y="159" width="1" height="22" fill="#ee5264"/>
<rect x="1272" y="167" width="3" height="7" fill="#ee5264"/>
<rect x="1278" y="123" width="1" height="48" fill="#ee5264"/>
<rect x="1277" y="125" width="3" height="41" fill="#ee5264"/>
<rect x="1283" y="106" width="1" height="24" fill="#ee5264"/>
<rect x="1282" y="117" width="3" height="8" fill="#ee5264"/>
<rect x="1288" y="114" width="1" height="33" fill="#4dc08c"/>
<rect x="1287" y="118" width="3" height="27" fill="#4dc08c"/>
<rect x="1293" y="123" width="1" height="20" fill="#ee5264"/>
<rect x="1292" y="131" width="3" height="12" fill="#ee5264"/>
<rect x="1298" y="128" width="1" height="28" fill="#4dc08c"/>
<rect x="1297" y="132" width="3" height="20" fill="#4dc08c"/>
<rect x="1303" y="134" width="1" height="27" fill="#ee5264"/>
<rect x="1302" y="142" width="3" height="13" fill="#ee5264"/>
<rect x="1308" y="141" width="1" height="18" fill="#4dc08c"/>
<rect x="1307" y="142" width="3" height="4" fill="#4dc08c"/>
<rect x="1313" y="138" width="1" height="15" fill="#4dc08c"/>
<rect x="1312" y="147" width="3" height="2" fill="#4dc08c"/>
<rect x="1318" y="148" width="1" height="37" fill="#4dc08c"/>
<rect x="1317" y="151" width="3" height="17" fill="#4dc08c"/>
<rect x="1323" y="148" width="1" height="20" fill="#ee5264"/>
<rect x="1322" y="156" width="3" height="12" fill="#ee5264"/>
<rect x="1328" y="155" width="1" height="21" fill="#4dc08c"/>
<rect x="1327" y="158" width="3" height="14" fill="#4dc08c"/>
<rect x="1333" y="163" width="1" height="26" fill="#4dc08c"/>
<rect x="1332" y="173" width="3" height="3" fill="#4dc08c"/>
<rect x="1338" y="165" width="1" height="28" fill="#ee5264"/>
<rect x="1337" y="169" width="3" height="7" fill="#ee5264"/>
<rect x="1343" y="152" width="1" height="27" fill="#ee5264"/>
<rect x="1342" y="155" width="3" height="19" fill="#ee5264"/>
<rect x="1348" y="129" width="1" height="29" fill="#ee5264"/>
<rect x="1347" y="131" width="3" height="25" fill="#ee5264"/>
<rect x="1353" y="129" width="1" height="27" fill="#4dc08c"/>
<rect x="1352" y="133" width="3" height="20" fill="#4dc08c"/>
<rect x="1358" y="148" width="1" height="30" fill="#4dc08c"/>
<rect x="1357" y="155" width="3" height="9" fill="#4dc08c"/>
<rect x="1363" y="149" width="1" height="17" fill="#ee5264"/>
<rect x="1362" y="157" width="3" height="7" fill="#ee5264"/>
<line x1="91" y1="156.5" x2="1392" y2="156.5" stroke="#f5a030" stroke-width="1" stroke-dasharray="3 3"/>
<rect x="161" y="81" width="7" height="1" fill="#e8e8e8"/>
<rect x="163" y="79" width="1" height="5" fill="#e8e8e8"/>
<text x="168.5" y="78" class="hl" fill="#f0505e">158.871</text>
<rect x="1281" y="106" width="7" height="1" fill="#e8e8e8"/>
<rect x="1283" y="104" width="1" height="5" fill="#e8e8e8"/>
<text x="1288.5" y="103" class="hl" fill="#f0505e">157.890</text>
<rect x="521" y="548" width="7" height="1" fill="#e8e8e8"/>
<rect x="523" y="546" width="1" height="5" fill="#e8e8e8"/>
<text x="528.5" y="560" class="hl" fill="#4dc890">139.887</text>
<rect x="93" y="626" width="1" height="67" fill="#ee5264"/>
<rect x="98" y="622" width="1" height="71" fill="#ee5264"/>
<rect x="103" y="619" width="1" height="74" fill="#ee5264"/>
<rect x="108" y="620" width="1" height="73" fill="#ee5264"/>
<rect x="113" y="620" width="1" height="73" fill="#ee5264"/>
<rect x="118" y="626" width="1" height="67" fill="#ee5264"/>
<rect x="123" y="641" width="1" height="52" fill="#ee5264"/>
<rect x="128" y="650" width="1" height="43" fill="#ee5264"/>
<rect x="133" y="658" width="1" height="35" fill="#ee5264"/>
<rect x="138" y="667" width="1" height="26" fill="#ee5264"/>
<rect x="143" y="674" width="1" height="19" fill="#ee5264"/>
<rect x="148" y="677" width="1" height="16" fill="#ee5264"/>
<rect x="153" y="678" width="1" height="15" fill="#ee5264"/>
<rect x="158" y="683" width="1" height="10" fill="#ee5264"/>
<rect x="163" y="690" width="1" height="3" fill="#ee5264"/>
<rect x="168" y="692" width="1" height="7" fill="#4dc08c"/>
<rect x="173" y="692" width="1" height="10" fill="#4dc08c"/>
<rect x="178" y="692" width="1" height="23" fill="#4dc08c"/>
<rect x="183" y="692" width="1" height="41" fill="#4dc08c"/>
<rect x="188" y="692" width="1" height="43" fill="#4dc08c"/>
<rect x="193" y="692" width="1" height="48" fill="#4dc08c"/>
<rect x="198" y="692" width="1" height="51" fill="#4dc08c"/>
<rect x="203" y="692" width="1" height="43" fill="#4dc08c"/>
<rect x="208" y="692" width="1" height="40" fill="#4dc08c"/>
<rect x="213" y="692" width="1" height="37" fill="#4dc08c"/>
<rect x="218" y="692" width="1" height="45" fill="#4dc08c"/>
<rect x="223" y="692" width="1" height="41" fill="#4dc08c"/>
<rect x="228" y="692" width="1" height="38" fill="#4dc08c"/>
<rect x="233" y="692" width="1" height="42" fill="#4dc08c"/>
<rect x="238" y="692" width="1" height="35" fill="#4dc08c"/>
<rect x="243" y="692" width="1" height="33" fill="#4dc08c"/>
<rect x="248" y="692" width="1" height="33" fill="#4dc08c"/>
<rect x="253" y="692" width="1" height="44" fill="#4dc08c"/>
<rect x="258" y="692" width="1" height="57" fill="#4dc08c"/>
<rect x="263" y="692" width="1" height="61" fill="#4dc08c"/>
<rect x="268" y="692" width="1" height="57" fill="#4dc08c"/>
<rect x="273" y="692" width="1" height="47" fill="#4dc08c"/>
<rect x="278" y="692" width="1" height="23" fill="#4dc08c"/>
<rect x="283" y="692" width="1" height="19" fill="#4dc08c"/>
<rect x="288" y="692" width="1" height="17" fill="#4dc08c"/>
<rect x="293" y="692" width="1" height="21" fill="#4dc08c"/>
<rect x="298" y="692" width="1" height="17" fill="#4dc08c"/>
<rect x="303" y="692" width="1" height="18" fill="#4dc08c"/>
<rect x="308" y="692" width="1" height="29" fill="#4dc08c"/>
<rect x="313" y="692" width="1" height="36" fill="#4dc08c"/>
<rect x="318" y="692" width="1" height="35" fill="#4dc08c"/>
<rect x="323" y="692" width="1" height="36" fill="#4dc08c"/>
<rect x="328" y="692" width="1" height="34" fill="#4dc08c"/>
<rect x="333" y="692" width="1" height="23" fill="#4dc08c"/>
<rect x="338" y="692" width="1" height="9" fill="#4dc08c"/>
<rect x="343" y="692" width="1" height="6" fill="#4dc08c"/>
<rect x="348" y="692" width="1" height="1" fill="#ee5264"/>
<rect x="353" y="692" width="1" height="2" fill="#4dc08c"/>
<rect x="358" y="692" width="1" height="9" fill="#4dc08c"/>
<rect x="363" y="692" width="1" height="10" fill="#4dc08c"/>
<rect x="368" y="692" width="1" height="15" fill="#4dc08c"/>
<rect x="373" y="692" width="1" height="12" fill="#4dc08c"/>
<rect x="378" y="692" width="1" height="5" fill="#4dc08c"/>
<rect x="383" y="692" width="1" height="2" fill="#4dc08c"/>
<rect x="388" y="684" width="1" height="9" fill="#ee5264"/>
<rect x="393" y="673" width="1" height="20" fill="#ee5264"/>
<rect x="398" y="665" width="1" height="28" fill="#ee5264"/>
<rect x="403" y="664" width="1" height="29" fill="#ee5264"/>
<rect x="408" y="663" width="1" height="30" fill="#ee5264"/>
<rect x="413" y="659" width="1" height="34" fill="#ee5264"/>
<rect x="418" y="647" width="1" height="46" fill="#ee5264"/>
<rect x="423" y="646" width="1" height="47" fill="#ee5264"/>
<rect x="428" y="643" width="1" height="50" fill="#ee5264"/>
<rect x="433" y="639" width="1" height="54" fill="#ee5264"/>
<rect x="438" y="647" width="1" height="46" fill="#ee5264"/>
<rect x="443" y="653" width="1" height="40" fill="#ee5264"/>
<rect x="448" y="661" width="1" height="32" fill="#ee5264"/>
<rect x="453" y="670" width="1" height="23" fill="#ee5264"/>
<rect x="458" y="692" width="1" height="8" fill="#4dc08c"/>
<rect x="463" y="692" width="1" height="20" fill="#4dc08c"/>
<rect x="468" y="692" width="1" height="19" fill="#4dc08c"/>
<rect x="473" y="692" width="1" height="28" fill="#4dc08c"/>
<rect x="478" y="692" width="1" height="22" fill="#4dc08c"/>
<rect x="483" y="692" width="1" height="39" fill="#4dc08c"/>
<rect x="488" y="692" width="1" height="54" fill="#4dc08c"/>
<rect x="493" y="692" width="1" height="63" fill="#4dc08c"/>
<rect x="498" y="692" width="1" height="64" fill="#4dc08c"/>
<rect x="503" y="692" width="1" height="69" fill="#4dc08c"/>
<rect x="508" y="692" width="1" height="64" fill="#4dc08c"/>
<rect x="513" y="692" width="1" height="58" fill="#4dc08c"/>
<rect x="518" y="692" width="1" height="59" fill="#4dc08c"/>
<rect x="523" y="692" width="1" height="49" fill="#4dc08c"/>
<rect x="528" y="692" width="1" height="26" fill="#4dc08c"/>
<rect x="533" y="692" width="1" height="14" fill="#4dc08c"/>
<rect x="538" y="687" width="1" height="6" fill="#ee5264"/>
<rect x="543" y="687" width="1" height="6" fill="#ee5264"/>
<rect x="548" y="682" width="1" height="11" fill="#ee5264"/>
<rect x="553" y="673" width="1" height="20" fill="#ee5264"/>
<rect x="558" y="650" width="1" height="43" fill="#ee5264"/>
<rect x="563" y="639" width="1" height="54" fill="#ee5264"/>
<rect x="568" y="642" width="1" height="51" fill="#ee5264"/>
<rect x="573" y="655" width="1" height="38" fill="#ee5264"/>
<rect x="578" y="653" width="1" height="40" fill="#ee5264"/>
<rect x="583" y="637" width="1" height="56" fill="#ee5264"/>
<rect x="588" y="633" width="1" height="60" fill="#ee5264"/>
<rect x="593" y="610" width="1" height="83" fill="#ee5264"/>
<rect x="598" y="607" width="1" height="86" fill="#ee5264"/>
<rect x="603" y="613" width="1" height="80" fill="#ee5264"/>
<rect x="608" y="629" width="1" height="64" fill="#ee5264"/>
<rect x="613" y="642" width="1" height="51" fill="#ee5264"/>
<rect x="618" y="658" width="1" height="35" fill="#ee5264"/>
<rect x="623" y="673" width="1" height="20" fill="#ee5264"/>
<rect x="628" y="689" width="1" height="4" fill="#ee5264"/>
<rect x="633" y="692" width="1" height="5" fill="#4dc08c"/>
<rect x="638" y="692" width="1" height="20" fill="#4dc08c"/>
<rect x="643" y="692" width="1" height="26" fill="#4dc08c"/>
<rect x="648" y="692" width="1" height="18" fill="#4dc08c"/>
<rect x="653" y="692" width="1" height="8" fill="#4dc08c"/>
<rect x="658" y="692" width="1" height="6" fill="#4dc08c"/>
<rect x="663" y="692" width="1" height="5" fill="#4dc08c"/>
<rect x="668" y="692" width="1" height="14" fill="#4dc08c"/>
<rect x="673" y="692" width="1" height="9" fill="#4dc08c"/>
<rect x="678" y="692" width="1" height="14" fill="#4dc08c"/>
<rect x="683" y="692" width="1" height="11" fill="#4dc08c"/>
<rect x="688" y="689" width="1" height="4" fill="#ee5264"/>
<rect x="693" y="683" width="1" height="10" fill="#ee5264"/>
<rect x="698" y="677" width="1" height="16" fill="#ee5264"/>
<rect x="703" y="676" width="1" height="17" fill="#ee5264"/>
<rect x="708" y="684" width="1" height="9" fill="#ee5264"/>
<rect x="713" y="684" width="1" height="9" fill="#ee5264"/>
<rect x="718" y="680" width="1" height="13" fill="#ee5264"/>
<rect x="723" y="674" width="1" height="19" fill="#ee5264"/>
<rect x="728" y="672" width="1" height="21" fill="#ee5264"/>
<rect x="733" y="669" width="1" height="24" fill="#ee5264"/>
<rect x="738" y="664" width="1" height="29" fill="#ee5264"/>
<rect x="743" y="662" width="1" height="31" fill="#ee5264"/>
<rect x="748" y="672" width="1" height="21" fill="#ee5264"/>
<rect x="753" y="676" width="1" height="17" fill="#ee5264"/>
<rect x="758" y="686" width="1" height="7" fill="#ee5264"/>
<rect x="763" y="691" width="1" height="2" fill="#ee5264"/>
<rect x="768" y="692" width="1" height="8" fill="#4dc08c"/>
<rect x="773" y="692" width="1" height="17" fill="#4dc08c"/>
<rect x="778" y="692" width="1" height="20" fill="#4dc08c"/>
<rect x="783" y="692" width="1" height="12" fill="#4dc08c"/>
<rect x="788" y="692" width="1" height="10" fill="#4dc08c"/>
<rect x="793" y="687" width="1" height="6" fill="#ee5264"/>
<rect x="798" y="675" width="1" height="18" fill="#ee5264"/>
<rect x="803" y="671" width="1" height="22" fill="#ee5264"/>
<rect x="808" y="669" width="1" height="24" fill="#ee5264"/>
<rect x="813" y="661" width="1" height="32" fill="#ee5264"/>
<rect x="818" y="656" width="1" height="37" fill="#ee5264"/>
<rect x="823" y="647" width="1" height="46" fill="#ee5264"/>
<rect x="828" y="651" width="1" height="42" fill="#ee5264"/>
<rect x="833" y="651" width="1" height="42" fill="#ee5264"/>
<rect x="838" y="652" width="1" height="41" fill="#ee5264"/>
<rect x="843" y="665" width="1" height="28" fill="#ee5264"/>
<rect x="848" y="682" width="1" height="11" fill="#ee5264"/>
<rect x="853" y="692" width="1" height="3" fill="#4dc08c"/>
<rect x="858" y="692" width="1" height="8" fill="#4dc08c"/>
<rect x="863" y="692" width="1" height="7" fill="#4dc08c"/>
<rect x="868" y="691" width="1" height="2" fill="#ee5264"/>
<rect x="873" y="688" width="1" height="5" fill="#ee5264"/>
<rect x="878" y="680" width="1" height="13" fill="#ee5264"/>
<rect x="883" y="667" width="1" height="26" fill="#ee5264"/>
<rect x="888" y="685" width="1" height="8" fill="#ee5264"/>
<rect x="893" y="692" width="1" height="9" fill="#4dc08c"/>
<rect x="898" y="692" width="1" height="15" fill="#4dc08c"/>
<rect x="903" y="692" width="1" height="21" fill="#4dc08c"/>
<rect x="908" y="692" width="1" height="26" fill="#4dc08c"/>
<rect x="913" y="692" width="1" height="24" fill="#4dc08c"/>
<rect x="918" y="692" width="1" height="19" fill="#4dc08c"/>
<rect x="923" y="692" width="1" height="18" fill="#4dc08c"/>
<rect x="928" y="692" width="1" height="20" fill="#4dc08c"/>
<rect x="933" y="692" width="1" height="18" fill="#4dc08c"/>
<rect x="938" y="692" width="1" height="21" fill="#4dc08c"/>
<rect x="943" y="692" width="1" height="17" fill="#4dc08c"/>
<rect x="948" y="692" width="1" height="16" fill="#4dc08c"/>
<rect x="953" y="692" width="1" height="17" fill="#4dc08c"/>
<rect x="958" y="692" width="1" height="9" fill="#4dc08c"/>
<rect x="963" y="692" width="1" height="15" fill="#4dc08c"/>
<rect x="968" y="692" width="1" height="12" fill="#4dc08c"/>
<rect x="973" y="692" width="1" height="13" fill="#4dc08c"/>
<rect x="978" y="692" width="1" height="13" fill="#4dc08c"/>
<rect x="983" y="692" width="1" height="16" fill="#4dc08c"/>
<rect x="988" y="692" width="1" height="16" fill="#4dc08c"/>
<rect x="993" y="692" width="1" height="14" fill="#4dc08c"/>
<rect x="998" y="692" width="1" height="4" fill="#4dc08c"/>
<rect x="1003" y="691" width="1" height="2" fill="#ee5264"/>
<rect x="1008" y="685" width="1" height="8" fill="#ee5264"/>
<rect x="1013" y="690" width="1" height="3" fill="#ee5264"/>
<rect x="1018" y="692" width="1" height="2" fill="#4dc08c"/>
<rect x="1023" y="692" width="1" height="4" fill="#4dc08c"/>
<rect x="1028" y="692" width="1" height="5" fill="#4dc08c"/>
<rect x="1033" y="692" width="1" height="7" fill="#4dc08c"/>
<rect x="1038" y="692" width="1" height="5" fill="#4dc08c"/>
<rect x="1043" y="692" width="1" height="6" fill="#4dc08c"/>
<rect x="1048" y="692" width="1" height="12" fill="#4dc08c"/>
<rect x="1053" y="692" width="1" height="13" fill="#4dc08c"/>
<rect x="1058" y="692" width="1" height="5" fill="#4dc08c"/>
<rect x="1063" y="691" width="1" height="2" fill="#ee5264"/>
<rect x="1068" y="689" width="1" height="4" fill="#ee5264"/>
<rect x="1073" y="689" width="1" height="4" fill="#ee5264"/>
<rect x="1078" y="680" width="1" height="13" fill="#ee5264"/>
<rect x="1083" y="669" width="1" height="24" fill="#ee5264"/>
<rect x="1088" y="665" width="1" height="28" fill="#ee5264"/>
<rect x="1093" y="671" width="1" height="22" fill="#ee5264"/>
<rect x="1098" y="681" width="1" height="12" fill="#ee5264"/>
<rect x="1103" y="692" width="1" height="3" fill="#4dc08c"/>
<rect x="1108" y="692" width="1" height="9" fill="#4dc08c"/>
<rect x="1113" y="692" width="1" height="12" fill="#4dc08c"/>
<rect x="1118" y="683" width="1" height="10" fill="#ee5264"/>
<rect x="1123" y="660" width="1" height="33" fill="#ee5264"/>
<rect x="1128" y="642" width="1" height="51" fill="#ee5264"/>
<rect x="1133" y="631" width="1" height="62" fill="#ee5264"/>
<rect x="1138" y="640" width="1" height="53" fill="#ee5264"/>
<rect x="1143" y="643" width="1" height="50" fill="#ee5264"/>
<rect x="1148" y="650" width="1" height="43" fill="#ee5264"/>
<rect x="1153" y="664" width="1" height="29" fill="#ee5264"/>
<rect x="1158" y="679" width="1" height="14" fill="#ee5264"/>
<rect x="1163" y="689" width="1" height="4" fill="#ee5264"/>
<rect x="1168" y="692" width="1" height="5" fill="#4dc08c"/>
<rect x="1173" y="692" width="1" height="1" fill="#ee5264"/>
<rect x="1178" y="690" width="1" height="3" fill="#ee5264"/>
<rect x="1183" y="686" width="1" height="7" fill="#ee5264"/>
<rect x="1188" y="682" width="1" height="11" fill="#ee5264"/>
<rect x="1193" y="681" width="1" height="12" fill="#ee5264"/>
<rect x="1198" y="687" width="1" height="6" fill="#ee5264"/>
<rect x="1203" y="688" width="1" height="5" fill="#ee5264"/>
<rect x="1208" y="680" width="1" height="13" fill="#ee5264"/>
<rect x="1213" y="677" width="1" height="16" fill="#ee5264"/>
<rect x="1218" y="676" width="1" height="17" fill="#ee5264"/>
<rect x="1223" y="681" width="1" height="12" fill="#ee5264"/>
<rect x="1228" y="682" width="1" height="11" fill="#ee5264"/>
<rect x="1233" y="692" width="1" height="2" fill="#4dc08c"/>
<rect x="1238" y="692" width="1" height="7" fill="#4dc08c"/>
<rect x="1243" y="692" width="1" height="5" fill="#4dc08c"/>
<rect x="1248" y="692" width="1" height="5" fill="#4dc08c"/>
<rect x="1253" y="692" width="1" height="2" fill="#4dc08c"/>
<rect x="1258" y="692" width="1" height="2" fill="#4dc08c"/>
<rect x="1263" y="692" width="1" height="4" fill="#4dc08c"/>
<rect x="1268" y="691" width="1" height="2" fill="#ee5264"/>
<rect x="1273" y="689" width="1" height="4" fill="#ee5264"/>
<rect x="1278" y="676" width="1" height="17" fill="#ee5264"/>
<rect x="1283" y="668" width="1" height="25" fill="#ee5264"/>
<rect x="1288" y="673" width="1" height="20" fill="#ee5264"/>
<rect x="1293" y="675" width="1" height="18" fill="#ee5264"/>
<rect x="1298" y="684" width="1" height="9" fill="#ee5264"/>
<rect x="1303" y="689" width="1" height="4" fill="#ee5264"/>
<rect x="1308" y="692" width="1" height="3" fill="#4dc08c"/>
<rect x="1313" y="692" width="1" height="9" fill="#4dc08c"/>
<rect x="1318" y="692" width="1" height="19" fill="#4dc08c"/>
<rect x="1323" y="692" width="1" height="22" fill="#4dc08c"/>
<rect x="1328" y="692" width="1" height="28" fill="#4dc08c"/>
<rect x="1333" y="692" width="1" height="33" fill="#4dc08c"/>
<rect x="1338" y="692" width="1" height="34" fill="#4dc08c"/>
<rect x="1343" y="692" width="1" height="29" fill="#4dc08c"/>
<rect x="1348" y="692" width="1" height="19" fill="#4dc08c"/>
<rect x="1353" y="692" width="1" height="18" fill="#4dc08c"/>
<rect x="1358" y="692" width="1" height="21" fill="#4dc08c"/>
<rect x="1363" y="692" width="1" height="21" fill="#4dc08c"/>
<g clip-path="url(#mclip)">
<polyline points="93.5,688.58 98.5,679.90 103.5,670.78 108.5,661.79 113.5,652.87 118.5,644.61 123.5,638.22 128.5,633.04 133.5,628.83 138.5,625.80 143.5,623.55 148.5,621.66 153.5,619.98 158.5,618.88 163.5,618.70 168.5,619.53 173.5,620.68 178.5,623.49 183.5,628.56 188.5,633.90 193.5,639.84 198.5,646.08 203.5,651.31 208.5,656.19 213.5,660.79 218.5,666.32 223.5,671.32 228.5,676.03 233.5,681.16 238.5,685.49 243.5,689.56 248.5,693.57 253.5,698.92 258.5,705.93 263.5,713.51 268.5,720.50 273.5,726.26 278.5,729.10 283.5,731.37 288.5,733.45 293.5,735.99 298.5,738.06 303.5,740.18 308.5,743.76 313.5,748.20 318.5,752.50 323.5,756.93 328.5,761.03 333.5,763.87 338.5,764.91 343.5,765.61 348.5,765.58 353.5,765.79 358.5,766.78 363.5,767.99 368.5,769.81 373.5,771.25 378.5,771.80 383.5,771.95 388.5,770.96 393.5,768.56 398.5,765.17 403.5,761.72 408.5,758.15 413.5,754.06 418.5,748.45 423.5,742.79 428.5,736.70 433.5,730.10 438.5,724.49 443.5,719.67 448.5,715.82 453.5,713.10 458.5,714.05 463.5,716.48 468.5,718.76 473.5,722.20 478.5,724.80 483.5,729.59 488.5,736.20 493.5,744.02 498.5,751.88 503.5,760.46 508.5,768.38 513.5,775.53 518.5,782.81 523.5,788.90 528.5,792.04 533.5,793.68 538.5,793.07 543.5,792.44 548.5,791.27 553.5,788.92 558.5,783.72 563.5,777.16 568.5,770.97 573.5,766.33 578.5,761.46 583.5,754.65 588.5,747.36 593.5,737.18 598.5,726.56 603.5,716.75 608.5,708.89 613.5,702.64 618.5,698.44 623.5,696.04 628.5,695.63 633.5,696.20 638.5,698.62 643.5,701.80 648.5,703.95 653.5,704.86 658.5,705.52 663.5,706.05 668.5,707.67 673.5,708.69 678.5,710.34 683.5,711.58 688.5,711.23 693.5,710.08 698.5,708.20 703.5,706.21 708.5,705.22 713.5,704.28 718.5,702.84 723.5,700.66 728.5,698.22 733.5,695.43 738.5,691.98 743.5,688.31 748.5,685.79 753.5,683.88 758.5,683.21 763.5,683.08 768.5,683.93 773.5,685.92 778.5,688.32 783.5,689.73 788.5,690.82 793.5,690.21 798.5,688.17 803.5,685.51 808.5,682.70 813.5,678.90 818.5,674.44 823.5,668.82 828.5,663.70 833.5,658.56 838.5,653.53 843.5,650.24 848.5,649.01 853.5,649.31 858.5,650.20 863.5,650.93 868.5,650.83 873.5,650.35 878.5,648.83 883.5,645.70 888.5,644.90 893.5,645.95 898.5,647.73 903.5,650.20 908.5,653.32 913.5,656.19 918.5,658.46 923.5,660.61 928.5,663.03 933.5,665.23 938.5,667.77 943.5,669.81 948.5,671.66 953.5,673.68 958.5,674.78 963.5,676.57 968.5,677.96 973.5,679.47 978.5,680.98 983.5,682.82 988.5,684.69 993.5,686.38 998.5,686.82 1003.5,686.71 1008.5,685.92 1013.5,685.73 1018.5,685.88 1023.5,686.29 1028.5,686.81 1033.5,687.61 1038.5,688.14 1043.5,688.78 1048.5,690.25 1053.5,691.75 1058.5,692.23 1063.5,692.08 1068.5,691.77 1073.5,691.44 1078.5,689.97 1083.5,687.07 1088.5,683.70 1093.5,681.06 1098.5,679.70 1103.5,679.95 1108.5,681.04 1113.5,682.44 1118.5,681.35 1123.5,677.41 1128.5,671.21 1133.5,663.59 1138.5,657.18 1143.5,651.05 1148.5,645.88 1153.5,642.43 1158.5,640.88 1163.5,640.59 1168.5,641.08 1173.5,641.07 1178.5,640.83 1183.5,640.06 1188.5,638.82 1193.5,637.47 1198.5,636.93 1203.5,636.52 1208.5,635.08 1213.5,633.25 1218.5,631.24 1223.5,629.85 1228.5,628.69 1233.5,628.80 1238.5,629.55 1243.5,630.13 1248.5,630.69 1253.5,630.79 1258.5,630.98 1263.5,631.38 1268.5,631.32 1273.5,630.97 1278.5,629.03 1283.5,626.06 1288.5,623.77 1293.5,621.68 1298.5,620.75 1303.5,620.38 1308.5,620.70 1313.5,621.71 1318.5,623.95 1323.5,626.56 1328.5,630.01 1333.5,634.08 1338.5,638.20 1343.5,641.75 1348.5,644.00 1353.5,646.21 1358.5,648.80 1363.5,651.33" fill="none" stroke="#d4d400" stroke-width="1"/>
<polyline points="93.5,655.47 98.5,645.16 103.5,634.30 108.5,625.84 113.5,617.20 118.5,611.59 123.5,612.66 128.5,612.30 133.5,612.00 138.5,613.67 143.5,614.56 148.5,614.09 153.5,613.29 158.5,614.47 163.5,617.99 168.5,622.86 173.5,625.27 178.5,634.70 183.5,648.84 188.5,655.27 193.5,663.63 198.5,671.01 203.5,672.25 208.5,675.72 213.5,679.16 218.5,688.44 223.5,691.33 228.5,694.87 233.5,701.67 238.5,702.82 243.5,705.83 248.5,709.60 253.5,720.32 258.5,733.99 263.5,743.80 268.5,748.48 273.5,749.31 278.5,740.45 283.5,740.44 288.5,741.78 293.5,746.14 298.5,746.36 303.5,748.67 308.5,758.05 313.5,765.98 318.5,769.69 323.5,774.66 328.5,777.42 333.5,775.23 338.5,769.09 343.5,768.38 348.5,765.48 353.5,766.64 358.5,770.72 363.5,772.84 368.5,777.07 373.5,777.02 378.5,774.02 383.5,772.53 388.5,766.99 393.5,758.99 398.5,751.61 403.5,747.92 408.5,743.88 413.5,737.67 418.5,726.04 423.5,720.15 428.5,712.32 433.5,703.72 438.5,702.04 443.5,700.40 448.5,700.43 453.5,702.20 458.5,717.86 463.5,726.19 468.5,727.89 473.5,735.96 478.5,735.20 483.5,748.75 488.5,762.62 493.5,775.30 498.5,783.32 503.5,794.78 508.5,800.05 513.5,804.17 518.5,811.90 523.5,813.25 528.5,804.61 533.5,800.24 538.5,790.66 543.5,789.92 548.5,786.57 553.5,779.51 558.5,762.91 563.5,750.94 568.5,746.22 573.5,747.78 578.5,741.95 583.5,727.43 588.5,718.20 593.5,696.48 598.5,684.05 603.5,677.50 608.5,677.49 613.5,677.64 618.5,681.60 623.5,686.44 628.5,694.03 633.5,698.45 638.5,708.29 643.5,714.53 648.5,712.54 653.5,708.52 658.5,708.14 663.5,708.19 668.5,714.13 673.5,712.81 678.5,716.94 683.5,716.52 688.5,709.82 693.5,705.51 698.5,700.66 703.5,698.24 708.5,701.25 713.5,700.54 718.5,697.07 723.5,691.93 728.5,688.48 733.5,684.28 738.5,678.19 743.5,673.60 748.5,675.72 753.5,676.26 758.5,680.53 763.5,682.54 768.5,687.33 773.5,693.89 778.5,697.94 783.5,695.34 788.5,695.21 793.5,687.78 798.5,679.98 803.5,674.90 808.5,671.47 813.5,663.67 818.5,656.63 823.5,646.34 828.5,643.20 833.5,637.99 838.5,633.42 843.5,637.10 848.5,644.09 853.5,650.51 858.5,653.77 863.5,653.84 868.5,650.42 873.5,648.43 878.5,642.77 883.5,633.18 888.5,641.69 893.5,650.14 898.5,654.86 903.5,660.09 908.5,665.81 913.5,667.64 918.5,667.55 923.5,669.19 928.5,672.72 933.5,674.04 938.5,677.92 943.5,677.96 948.5,679.07 953.5,681.78 958.5,679.16 963.5,683.74 968.5,683.51 973.5,685.51 978.5,687.01 983.5,690.20 988.5,692.15 993.5,693.14 998.5,688.56 1003.5,686.28 1008.5,682.74 1013.5,684.99 1018.5,686.49 1023.5,687.92 1028.5,688.89 1033.5,690.80 1038.5,690.26 1043.5,691.37 1048.5,696.11 1053.5,697.74 1058.5,694.15 1063.5,691.50 1068.5,690.54 1073.5,690.08 1078.5,684.09 1083.5,675.47 1088.5,670.23 1093.5,670.49 1098.5,674.29 1103.5,680.94 1108.5,685.41 1113.5,688.03 1118.5,677.01 1123.5,661.62 1128.5,646.40 1133.5,633.15 1138.5,631.52 1143.5,626.53 1148.5,625.21 1153.5,628.61 1158.5,634.70 1163.5,639.43 1168.5,643.03 1173.5,641.02 1178.5,639.88 1183.5,636.97 1188.5,633.85 1193.5,632.07 1198.5,634.80 1203.5,634.88 1208.5,629.33 1213.5,625.90 1218.5,623.23 1223.5,624.28 1228.5,624.04 1233.5,629.23 1238.5,632.55 1243.5,632.47 1248.5,632.90 1253.5,631.19 1258.5,631.75 1263.5,632.99 1268.5,631.09 1273.5,629.54 1278.5,621.30 1283.5,614.16 1288.5,614.63 1293.5,613.29 1298.5,617.02 1303.5,618.92 1308.5,621.99 1313.5,625.74 1318.5,632.91 1323.5,637.01 1328.5,643.81 1333.5,650.34 1338.5,654.70 1343.5,655.96 1348.5,652.96 1353.5,655.06 1358.5,659.17 1363.5,661.45" fill="none" stroke="#dedede" stroke-width="1"/>
</g>
<text x="86.5" y="29.3" class="ax" text-anchor="end">161.149</text>
<text x="1396.4" y="29.3" class="ax">161.149</text>
<text x="86.5" y="84.2" class="ax" text-anchor="end">158.874</text>
<text x="1396.4" y="84.2" class="ax">158.874</text>
<text x="86.5" y="140.2" class="ax" text-anchor="end">156.599</text>
<text x="1396.4" y="140.2" class="ax">156.599</text>
<text x="86.5" y="196.2" class="ax" text-anchor="end">154.324</text>
<text x="1396.4" y="196.2" class="ax">154.324</text>
<text x="86.5" y="252.2" class="ax" text-anchor="end">152.049</text>
<text x="1396.4" y="252.2" class="ax">152.049</text>
<text x="86.5" y="308.2" class="ax" text-anchor="end">149.774</text>
<text x="1396.4" y="308.2" class="ax">149.774</text>
<text x="86.5" y="364.2" class="ax" text-anchor="end">147.499</text>
<text x="1396.4" y="364.2" class="ax">147.499</text>
<text x="86.5" y="420.2" class="ax" text-anchor="end">145.224</text>
<text x="1396.4" y="420.2" class="ax">145.224</text>
<text x="86.5" y="476.2" class="ax" text-anchor="end">142.949</text>
<text x="1396.4" y="476.2" class="ax">142.949</text>
<text x="86.5" y="532.2" class="ax" text-anchor="end">140.674</text>
<text x="1396.4" y="532.2" class="ax">140.674</text>
<text x="86.5" y="610.2" class="ax" text-anchor="end">1.501</text>
<text x="1396.4" y="610.2" class="ax">1.501</text>
<text x="86.5" y="633.2" class="ax" text-anchor="end">1.096</text>
<text x="1396.4" y="633.2" class="ax">1.096</text>
<text x="86.5" y="656.2" class="ax" text-anchor="end">0.691</text>
<text x="1396.4" y="656.2" class="ax">0.691</text>
<text x="86.5" y="679.2" class="ax" text-anchor="end">0.286</text>
<text x="1396.4" y="679.2" class="ax">0.286</text>
<text x="86.5" y="702.2" class="ax" text-anchor="end">-0.119</text>
<text x="1396.4" y="702.2" class="ax">-0.119</text>
<text x="86.5" y="725.2" class="ax" text-anchor="end">-0.524</text>
<text x="1396.4" y="725.2" class="ax">-0.524</text>
<text x="86.5" y="748.2" class="ax" text-anchor="end">-0.930</text>
<text x="1396.4" y="748.2" class="ax">-0.930</text>
<text x="86.5" y="771.2" class="ax" text-anchor="end">-1.335</text>
<text x="1396.4" y="771.2" class="ax">-1.335</text>
<text x="86.5" y="794.2" class="ax" text-anchor="end">-1.740</text>
<text x="1396.4" y="794.2" class="ax">-1.740</text>
<rect x="1394" y="96" width="64" height="16" fill="#000"/>
<text x="1396" y="107.5" class="ax" style="fill:#f08c28">158.300</text>
<rect x="1393.5" y="156.5" width="70" height="17" fill="#000" stroke="#f09a30" stroke-width="1"/>
<text x="1396" y="168.4" class="ax" style="fill:#f08c28">155.818</text>
<path d="M1453,150 L1458,146 L1458,150 Z M1453,155 L1458,151 L1458,155 Z" fill="#f09a30"/>
<text x="135" y="826" class="dt">2025/01</text>
<text x="245" y="826" class="dt">2025/02</text>
<text x="345" y="826" class="dt">2025/03</text>
<text x="450" y="826" class="dt">2025/04</text>
<text x="560" y="826" class="dt">2025/05</text>
<text x="670" y="826" class="dt">2025/06</text>
<text x="775" y="826" class="dt">2025/07</text>
<text x="890" y="826" class="dt">2025/08</text>
<text x="995" y="826" class="dt">2025/09</text>
<text x="1105" y="826" class="dt">2025/10</text>
<text x="1220" y="826" class="dt">2025/11</text>
<text x="1320" y="826" class="dt">2025/12</text>
<rect x="161" y="814" width="109" height="16" fill="#000"/>
<text x="162.6" y="826" class="cj" style="letter-spacing:0.5px" fill="#f09a30">2025/01/10 星期五</text>
<text x="34" y="829" class="cjb" fill="#ff6a00">日线</text>
<path d="M65,828.5 L69.25,820 L73.5,828.5Z" fill="#ff6a00"/>
<text x="92" y="18" class="cj" fill="#e8ecf4">美元日元</text><text x="140.6" y="18" class="cj" fill="#ff6a00" style="letter-spacing:0.1px">【日线】</text>
<g stroke="#ff6a00" fill="none" stroke-width="1.1" shape-rendering="auto"><circle cx="193.5" cy="15.5" r="4.2"/><line x1="189.4" y1="15.5" x2="197.6" y2="15.5"/><line x1="193.5" y1="11.4" x2="193.5" y2="19.6"/></g>
<text x="92.5" y="599" class="ax" style="fill:#dde2ec">MACD(26,12,9)</text>
<text x="183" y="599" class="ax" style="fill:#dde2ec">DIFF:0.533</text>
<text x="249.5" y="599" class="ax" style="fill:#dcdc22">DEA:0.712</text>
<text x="315.5" y="599" class="ax" style="fill:#e22ae6;letter-spacing:0.25px">MACD:-0.358</text>
<text x="10" y="21.5" class="sb" fill="#c8c8c8" text-anchor="middle">分</text>
<text x="10" y="36.0" class="sb" fill="#c8c8c8" text-anchor="middle">时</text>
<text x="10" y="50.5" class="sb" fill="#c8c8c8" text-anchor="middle">图</text>
<text x="10" y="70" class="sbk" fill="#ffffff" text-anchor="middle">K</text>
<text x="10" y="84.5" class="sb" fill="#ffffff" text-anchor="middle">线</text>
<text x="10" y="98.5" class="sb" fill="#ffffff" text-anchor="middle">图</text>
<text x="10" y="120.0" class="sb" fill="#c8c8c8" text-anchor="middle">闪</text>
<text x="10" y="134.5" class="sb" fill="#c8c8c8" text-anchor="middle">电</text>
<text x="10" y="149.0" class="sb" fill="#c8c8c8" text-anchor="middle">图</text>
<text x="10" y="172" class="sb" fill="#c8c8c8" text-anchor="middle">合</text>
<text x="10" y="186" class="sb" fill="#c8c8c8" text-anchor="middle">约</text>
<text x="10" y="200" class="sb" fill="#c8c8c8" text-anchor="middle">资</text>
<text x="10" y="214" class="sb" fill="#c8c8c8" text-anchor="middle">料</text>
<rect x="28" y="585" width="1" height="2" fill="#ff1010"/><rect x="28" y="597" width="1" height="2" fill="#ff1010"/><rect x="22" y="591" width="2" height="1" fill="#ff1010"/><rect x="34" y="591" width="2" height="1" fill="#ff1010"/><rect x="33" y="587" width="1" height="1" fill="#ff1010"/><rect x="34" y="586" width="1" height="1" fill="#ff1010"/><rect x="24" y="587" width="1" height="1" fill="#ff1010"/><rect x="23" y="586" width="1" height="1" fill="#ff1010"/><rect x="33" y="596" width="1" height="1" fill="#ff1010"/><rect x="34" y="597" width="1" height="1" fill="#ff1010"/><rect x="24" y="596" width="1" height="1" fill="#ff1010"/><rect x="23" y="597" width="1" height="1" fill="#ff1010"/>
<g shape-rendering="auto"><circle cx="28.8" cy="591.8" r="3.4" fill="#fff" stroke="#000" stroke-width="1"/><circle cx="28.9" cy="591.9" r="1.8" fill="#ff1010"/></g>
<rect x="1329.5" y="4.5" width="16" height="16" fill="none" stroke="#000" stroke-width="1"/>
<rect x="1330.5" y="5.5" width="13" height="13" fill="#000" stroke="#b4b4b4" stroke-width="1"/>
<rect x="1345.5" y="4.5" width="16" height="16" fill="none" stroke="#000" stroke-width="1"/>
<rect x="1346.5" y="5.5" width="13" height="13" fill="#000" stroke="#b4b4b4" stroke-width="1"/>
<rect x="1361.5" y="4.5" width="16" height="16" fill="none" stroke="#000" stroke-width="1"/>
<rect x="1362.5" y="5.5" width="13" height="13" fill="#000" stroke="#b4b4b4" stroke-width="1"/>
<rect x="1377.5" y="4.5" width="16" height="16" fill="none" stroke="#000" stroke-width="1"/>
<rect x="1378.5" y="5.5" width="13" height="13" fill="#000" stroke="#b4b4b4" stroke-width="1"/>
<g fill="#bcbcbc"><rect x="1336" y="7" width="2" height="1"/><rect x="1336" y="9" width="2" height="1"/><rect x="1336" y="14" width="2" height="1"/><rect x="1336" y="16" width="2" height="1"/><rect x="1336" y="11" width="2" height="2"/><rect x="1332" y="11" width="1" height="2"/><rect x="1334" y="11" width="1" height="2"/><rect x="1339" y="11" width="1" height="2"/><rect x="1341" y="11" width="1" height="2"/></g>
<g stroke="#bcbcbc" stroke-width="1" fill="none"><path d="M1349.5,8 V15.5 H1357"/><path d="M1352.5,8 V14"/></g>
<g fill="#bcbcbc"><path d="M1347.5,9 L1349.5,6.5 L1351.5,9Z"/><path d="M1356,13.5 L1358.5,15.5 L1356,17.5Z"/><path d="M1356,8 L1353,10.5 L1356,13Z"/></g>
<g stroke="#bcbcbc" stroke-width="1" fill="none"><path d="M1365.5,8 V15.5 H1373"/></g>
<g fill="#bcbcbc"><path d="M1363.5,9 L1365.5,6.5 L1367.5,9Z"/><path d="M1372,13.5 L1374.5,15.5 L1372,17.5Z"/><path d="M1367,8 L1373,11 L1367,14Z"/></g>
<g stroke="#bcbcbc" stroke-width="1" fill="none"><rect x="1380.5" y="7.5" width="3" height="9"/><path d="M1384,11.5 H1388"/></g>
<g fill="#bcbcbc"><path d="M1386.5,9 L1389.5,11.5 L1386.5,14Z"/></g>
<text transform="translate(1328.90,808.3) scale(0.9,1)" x="0" y="0" class="wm">F</text>
<text transform="translate(1348.90,808.3) scale(0.9,1)" x="0" y="0" class="wm">X</text>
<text transform="translate(1372.30,808.3) scale(0.9,1)" x="0" y="0" class="wm">6</text>
<text transform="translate(1392.30,808.3) scale(0.9,1)" x="0" y="0" class="wm">7</text>
<text transform="translate(1410.90,808.3) scale(0.9,1)" x="0" y="0" class="wm">8</text>
</svg></body></html>
